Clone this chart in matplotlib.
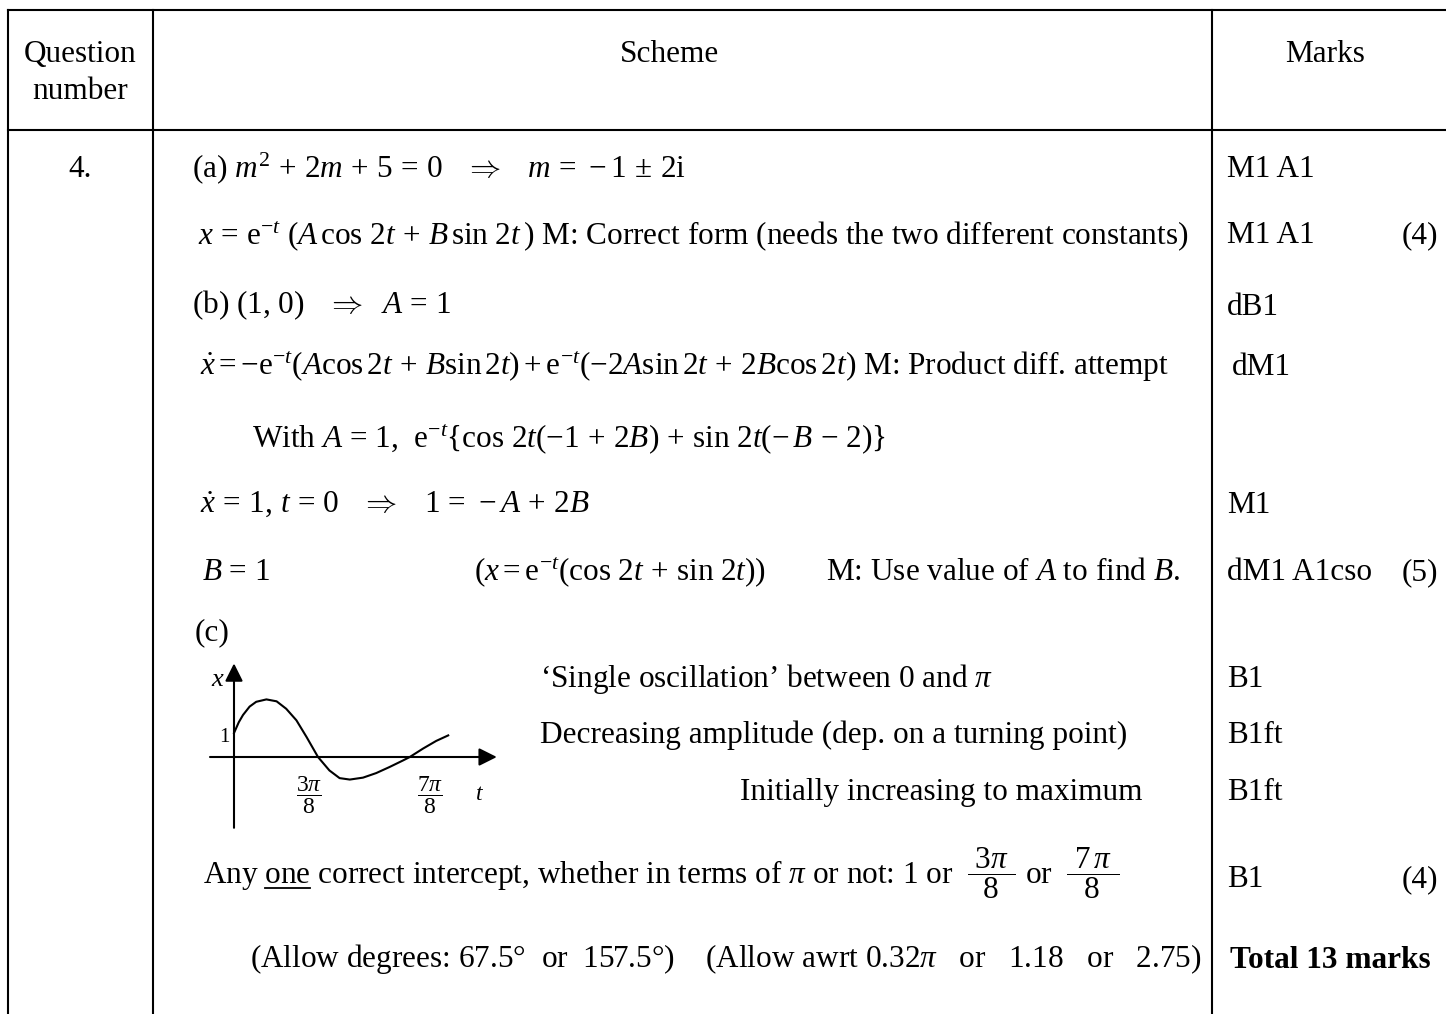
import matplotlib
matplotlib.use('Agg')
import matplotlib.pyplot as plt

plt.rcParams['font.family'] = ['Liberation Serif', 'DejaVu Serif']
plt.rcParams['mathtext.fontset'] = 'custom'
plt.rcParams['mathtext.rm'] = 'Liberation Serif'
plt.rcParams['mathtext.it'] = 'Liberation Serif:italic'
plt.rcParams['mathtext.bf'] = 'Liberation Serif:bold'

W, H = 1446, 1014
FS = 22.5

# table grid (pixel layout of the mark scheme page)
col_left, col_q, col_m, col_right = 8, 153, 1212, 1446
row_top, row_head = 10, 130

# header
headers = ['Question', 'number', 'Scheme', 'Marks']
header_x = [80, 80, 670, 1325]
header_y = [62, 99, 62, 62]

# scheme column: text, left x, baseline y
scheme_text = [
    r"(a) $m^2\,+\,2m\,+\,5\,=\,0\quad\Rightarrow\quad m\,=\,-1\,\pm\,2\mathrm{i}$",
    r"$x\,=\,\mathrm{e}^{-t}\ (A\,\cos\,2t\,+\,B\,\sin\,2t\,)$ M: Correct form (needs the two different constants)",
    r"(b) (1, 0) $\ \ \Rightarrow\ \ A\,=\,1$",
    r"$\dot{x}=-\mathrm{e}^{-t}(A\cos 2t\,+\,B\sin 2t)+\mathrm{e}^{-t}(-2A\sin 2t\,+\,2B\cos 2t)$ M: Product diff. attempt",
    r"With $A$ = 1,  $\mathrm{e}^{-t}\{\cos\,2t(-1\,+\,2B)\,+\,\sin\,2t(-\,B\,-\,2)\}$",
    r"$\dot{x}\,=\,1,\,t\,=\,0\ \ \ \Rightarrow\ \ \ 1\,=\,-A\,+\,2B$",
    r"$B$ = 1",
    r"$(x=\mathrm{e}^{-t}(\cos\,2t\,+\,\sin\,2t))$",
    r"M: Use value of $A$ to find $B$.",
    "(c)",
    r"‘Single oscillation’ between 0 and $\pi$",
    "Decreasing amplitude (dep. on a turning point)",
    r"(Allow degrees: 67.5°  or  157.5°)    (Allow awrt 0.32$\pi$   or   1.18   or   2.75)",
]
scheme_x = [192, 198, 192, 200, 252, 200, 202, 474, 826, 195, 540, 540, 250]
scheme_y = [177, 244, 313, 375, 447, 513, 580, 580, 580, 640, 687, 743, 967]

# right-aligned scheme line
right_text = "Initially increasing to maximum"
right_x, right_y = 1142, 800

# intercept line with fractions
intercept_pre = "Any "
intercept_word = "one"
intercept_text = (r"Any one correct intercept, whether in terms of $\pi$ or not: 1 or "
                  r"$\ \dfrac{\ 3\pi\ }{8}$ or  $\dfrac{\ 7\,\pi\ }{8}$")
intercept_x, intercept_y = 203, 884

# marks column
marks_text = ['M1 A1', 'M1 A1', 'dB1', 'dM1', 'M1', 'dM1 A1cso', 'B1', 'B1ft', 'B1ft', 'B1']
marks_x = [1227, 1227, 1227, 1232, 1227, 1227, 1227, 1227, 1227, 1227]
marks_y = [177, 243, 315, 375, 513, 580, 687, 743, 800, 887]
part_totals = ['(4)', '(5)', '(4)']
part_totals_y = [243, 580, 887]
grand_total = 'Total 13 marks'
grand_total_y = 968

# sketch of x against t (sketch units)
sketch_t = [0, 0.08, 0.15, 0.26, 0.37, 0.54, 0.71, 0.87, 1.04, 1.21, 1.40, 1.59,
            1.76, 1.93, 2.15, 2.37, 2.59, 2.82, 2.93, 3.15, 3.37, 3.57]
sketch_x = [1.0, 1.45, 1.75, 2.10, 2.30, 2.40, 2.32, 2.01, 1.53, 0.83, 0.0, -0.56,
            -0.88, -0.94, -0.86, -0.67, -0.42, -0.14, 0.0, 0.35, 0.67, 0.90]
tick_labels = [r"$\dfrac{3\pi}{8}$", r"$\dfrac{7\pi}{8}$"]
tick_pos = [1.25, 3.27]

fig = plt.figure(figsize=(W / 100, H / 100), dpi=100)
ax = fig.add_axes([0, 0, 1, 1])
ax.set_xlim(0, W)
ax.set_ylim(H, 0)
ax.axis('off')

lw = 1.5
ax.plot([col_left, col_right], [row_top, row_top], color='black', lw=lw)
ax.plot([col_left, col_right], [row_head, row_head], color='black', lw=lw)
for cx in [col_left, col_q, col_m]:
    ax.plot([cx, cx], [row_top, H], color='black', lw=lw)

for txt, x, y in zip(headers, header_x, header_y):
    ax.text(x, y, txt, ha='center', va='baseline', fontsize=FS)
ax.text(80, 177, '4.', ha='center', va='baseline', fontsize=FS)

for txt, x, y in zip(scheme_text, scheme_x, scheme_y):
    ax.text(x, y, txt, ha='left', va='baseline', fontsize=FS)
ax.text(right_x, right_y, right_text, ha='right', va='baseline', fontsize=FS)

ax.text(intercept_x, intercept_y, intercept_text, ha='left', va='baseline', fontsize=FS)

# underline "one"
r = fig.canvas.get_renderer()
inv = ax.transData.inverted()
tmp1 = ax.text(intercept_x, intercept_y, intercept_pre + intercept_word, ha='left', va='baseline', fontsize=FS)
tmp2 = ax.text(intercept_x, intercept_y, intercept_word, ha='left', va='baseline', fontsize=FS)
end_px = tmp1.get_window_extent(r).x1
w_px = tmp2.get_window_extent(r).width
tmp1.remove()
tmp2.remove()
u0 = inv.transform((end_px - w_px, 0))[0]
u1 = inv.transform((end_px, 0))[0]
ax.plot([u0, u1], [intercept_y + 4, intercept_y + 4], color='black', lw=1.3)

for txt, x, y in zip(marks_text, marks_x, marks_y):
    ax.text(x, y, txt, ha='left', va='baseline', fontsize=FS)
for txt, y in zip(part_totals, part_totals_y):
    ax.text(1438, y, txt, ha='right', va='baseline', fontsize=FS)
ax.text(1230, grand_total_y, grand_total, ha='left', va='baseline', fontsize=FS, fontweight='bold')

# inset sketch: 60 px per t unit, 24 px per x unit, origin at (234, 757)
ox, oy, sx, sy = 234, 757, 60, 24
t_lo, t_hi, x_lo, x_hi = -0.6, 4.6, -3.2, 4.2
left = ox + t_lo * sx
right = ox + t_hi * sx
top = oy - x_hi * sy
bottom = oy - x_lo * sy
ax2 = fig.add_axes([left / W, 1 - bottom / H, (right - left) / W, (bottom - top) / H])
ax2.set_xlim(t_lo, t_hi)
ax2.set_ylim(x_lo, x_hi)
ax2.axis('off')
ax2.patch.set_alpha(0)

arrow = dict(arrowstyle='-|>,head_length=0.6,head_width=0.3', mutation_scale=18,
             color='black', lw=1.5, shrinkA=0, shrinkB=0)
ax2.annotate('', xy=(4.38, 0), xytext=(-0.4, 0), arrowprops=arrow)
ax2.annotate('', xy=(0, 3.9), xytext=(0, -2.95), arrowprops=arrow)
ax2.plot(sketch_t, sketch_x, color='black', lw=1.5)

ax2.text(-0.27, 3.2, '$x$', ha='center', va='center', fontsize=19)
ax2.text(-0.08, 0.8, '1', ha='right', va='center', fontsize=15)
ax2.text(4.1, -1.55, '$t$', ha='center', va='center', fontsize=17)
for lab, tp in zip(tick_labels, tick_pos):
    ax2.text(tp, -1.6, lab, ha='center', va='center', fontsize=17)

fig.savefig('out.png', dpi=100)
